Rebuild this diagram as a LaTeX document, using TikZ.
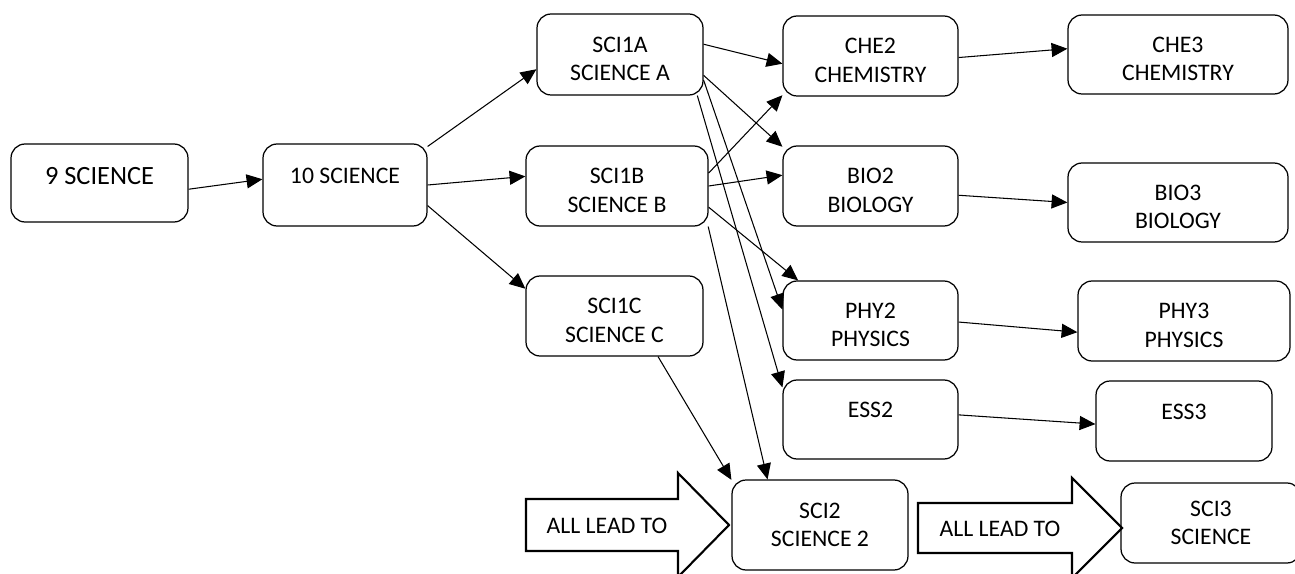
\documentclass[tikz,border=0pt]{standalone}
\usepackage{fontspec}
\setmainfont{Carlito}
\usetikzlibrary{arrows.meta}
\begin{document}
\begin{tikzpicture}[x=0.02cm,y=-0.02cm,
    box/.style={draw,line width=0.7pt,rounded corners=8pt,minimum width=3.5cm,
      minimum height=1.6cm,align=center,font=\fontsize{13.5}{16.2}\selectfont},
    high/.style={text depth=11pt},
    low/.style={text height=29.8pt},
    lead/.style={draw,line width=1.2pt},
    leadtext/.style={font=\fontsize{13.5}{16.2}\selectfont}]
  \useasboundingbox (0,0) rectangle (1295,574);
  \draw
    (99.5,183) node[box,minimum width=3.54cm,minimum height=1.56cm,text depth=8pt,
      font=\fontsize{15}{18}\selectfont] (sci9){9 SCIENCE}
    (345,185) node[box,high,minimum width=3.28cm,minimum height=1.64cm] (sci10){10 SCIENCE}
    (620,54.5) node[box,low,minimum width=3.32cm,minimum height=1.62cm] (sci1a){SCI1A\\SCIENCE A}
    (617,186) node[box,low,minimum width=3.64cm] (sci1b){SCI1B\\SCIENCE B}
    (614.5,316) node[box,low,minimum width=3.54cm] (sci1c){SCI1C\\SCIENCE C}
    (870.5,56) node[box,low] (che2){CHE2\\CHEMISTRY}
    (870.5,186) node[box,low] (bio2){BIO2\\BIOLOGY}
    (870.5,320.5) node[box,low,minimum height=1.58cm] (phy2){PHY2\\PHYSICS}
    (870.5,419.5) node[box,high,minimum height=1.58cm] (ess2){ESS2}
    (1178,54.5) node[box,low,minimum width=4.4cm,minimum height=1.58cm] (che3){CHE3\\CHEMISTRY}
    (1178,202.5) node[box,low,minimum width=4.4cm,minimum height=1.58cm] (bio3){BIO3\\BIOLOGY}
    (1184,321) node[box,low,minimum width=4.24cm] (phy3){PHY3\\PHYSICS}
    (1184,421) node[box,high,minimum width=3.52cm] (ess3){ESS3}
    (820,525) node[box,minimum width=3.52cm,minimum height=1.8cm] (sci2){SCI2\\SCIENCE 2}
    (1211,523) node[box,minimum width=3.6cm] (sci3){SCI3\\SCIENCE};
  % big arrows
  \draw[lead] (526,499) -- (678,499) -- (678,473) -- (729,525) -- (678,577)
    -- (678,551) -- (526,551) -- cycle;
  \node[leadtext] (lead2) at (607,526) {ALL LEAD TO};
  \draw[lead] (918,503) -- (1072,503) -- (1072,478) -- (1122,528) -- (1072,578)
    -- (1072,553) -- (918,553) -- cycle;
  \node[leadtext] (lead3) at (1000,529) {ALL LEAD TO};
  \begin{scope}[-{Triangle[length=9pt,width=8pt]},line width=0.6pt]
    \draw (sci9.-4) to (sci10.176.5);
    \draw (sci10.25) to (sci1a.190.6);
    \draw (sci10.east) to (sci1b.174.4);
    \draw (sci10.-14.4) to (sci1c.163.6);
    \draw (sci1a.7.9) to (che2.185.2);
    \draw (sci1a.-14.5) to (bio2.156);
    \draw (sci1a.-17) to (phy2.173);
    \draw (sci1a.-28) to (ess2.160);
    \draw (sci1b.8.7) to (che2.204);
    \draw (sci1b.0.6) to (bio2.173);
    \draw (sci1b.-13) to (phy2.151);
    \draw (sci1b.-24.6) to (sci2.139);
    \draw (sci1c.-43.4) to (sci2.153);
    \draw (che2.-1.3) to (che3.177.7);
    \draw (bio2.-6) to (bio3.west);
    \draw (phy2.-1.6) to (phy3.186.5);
    \draw (ess2.3.6) to (ess3.182);
  \end{scope}
\end{tikzpicture}
\end{document}
